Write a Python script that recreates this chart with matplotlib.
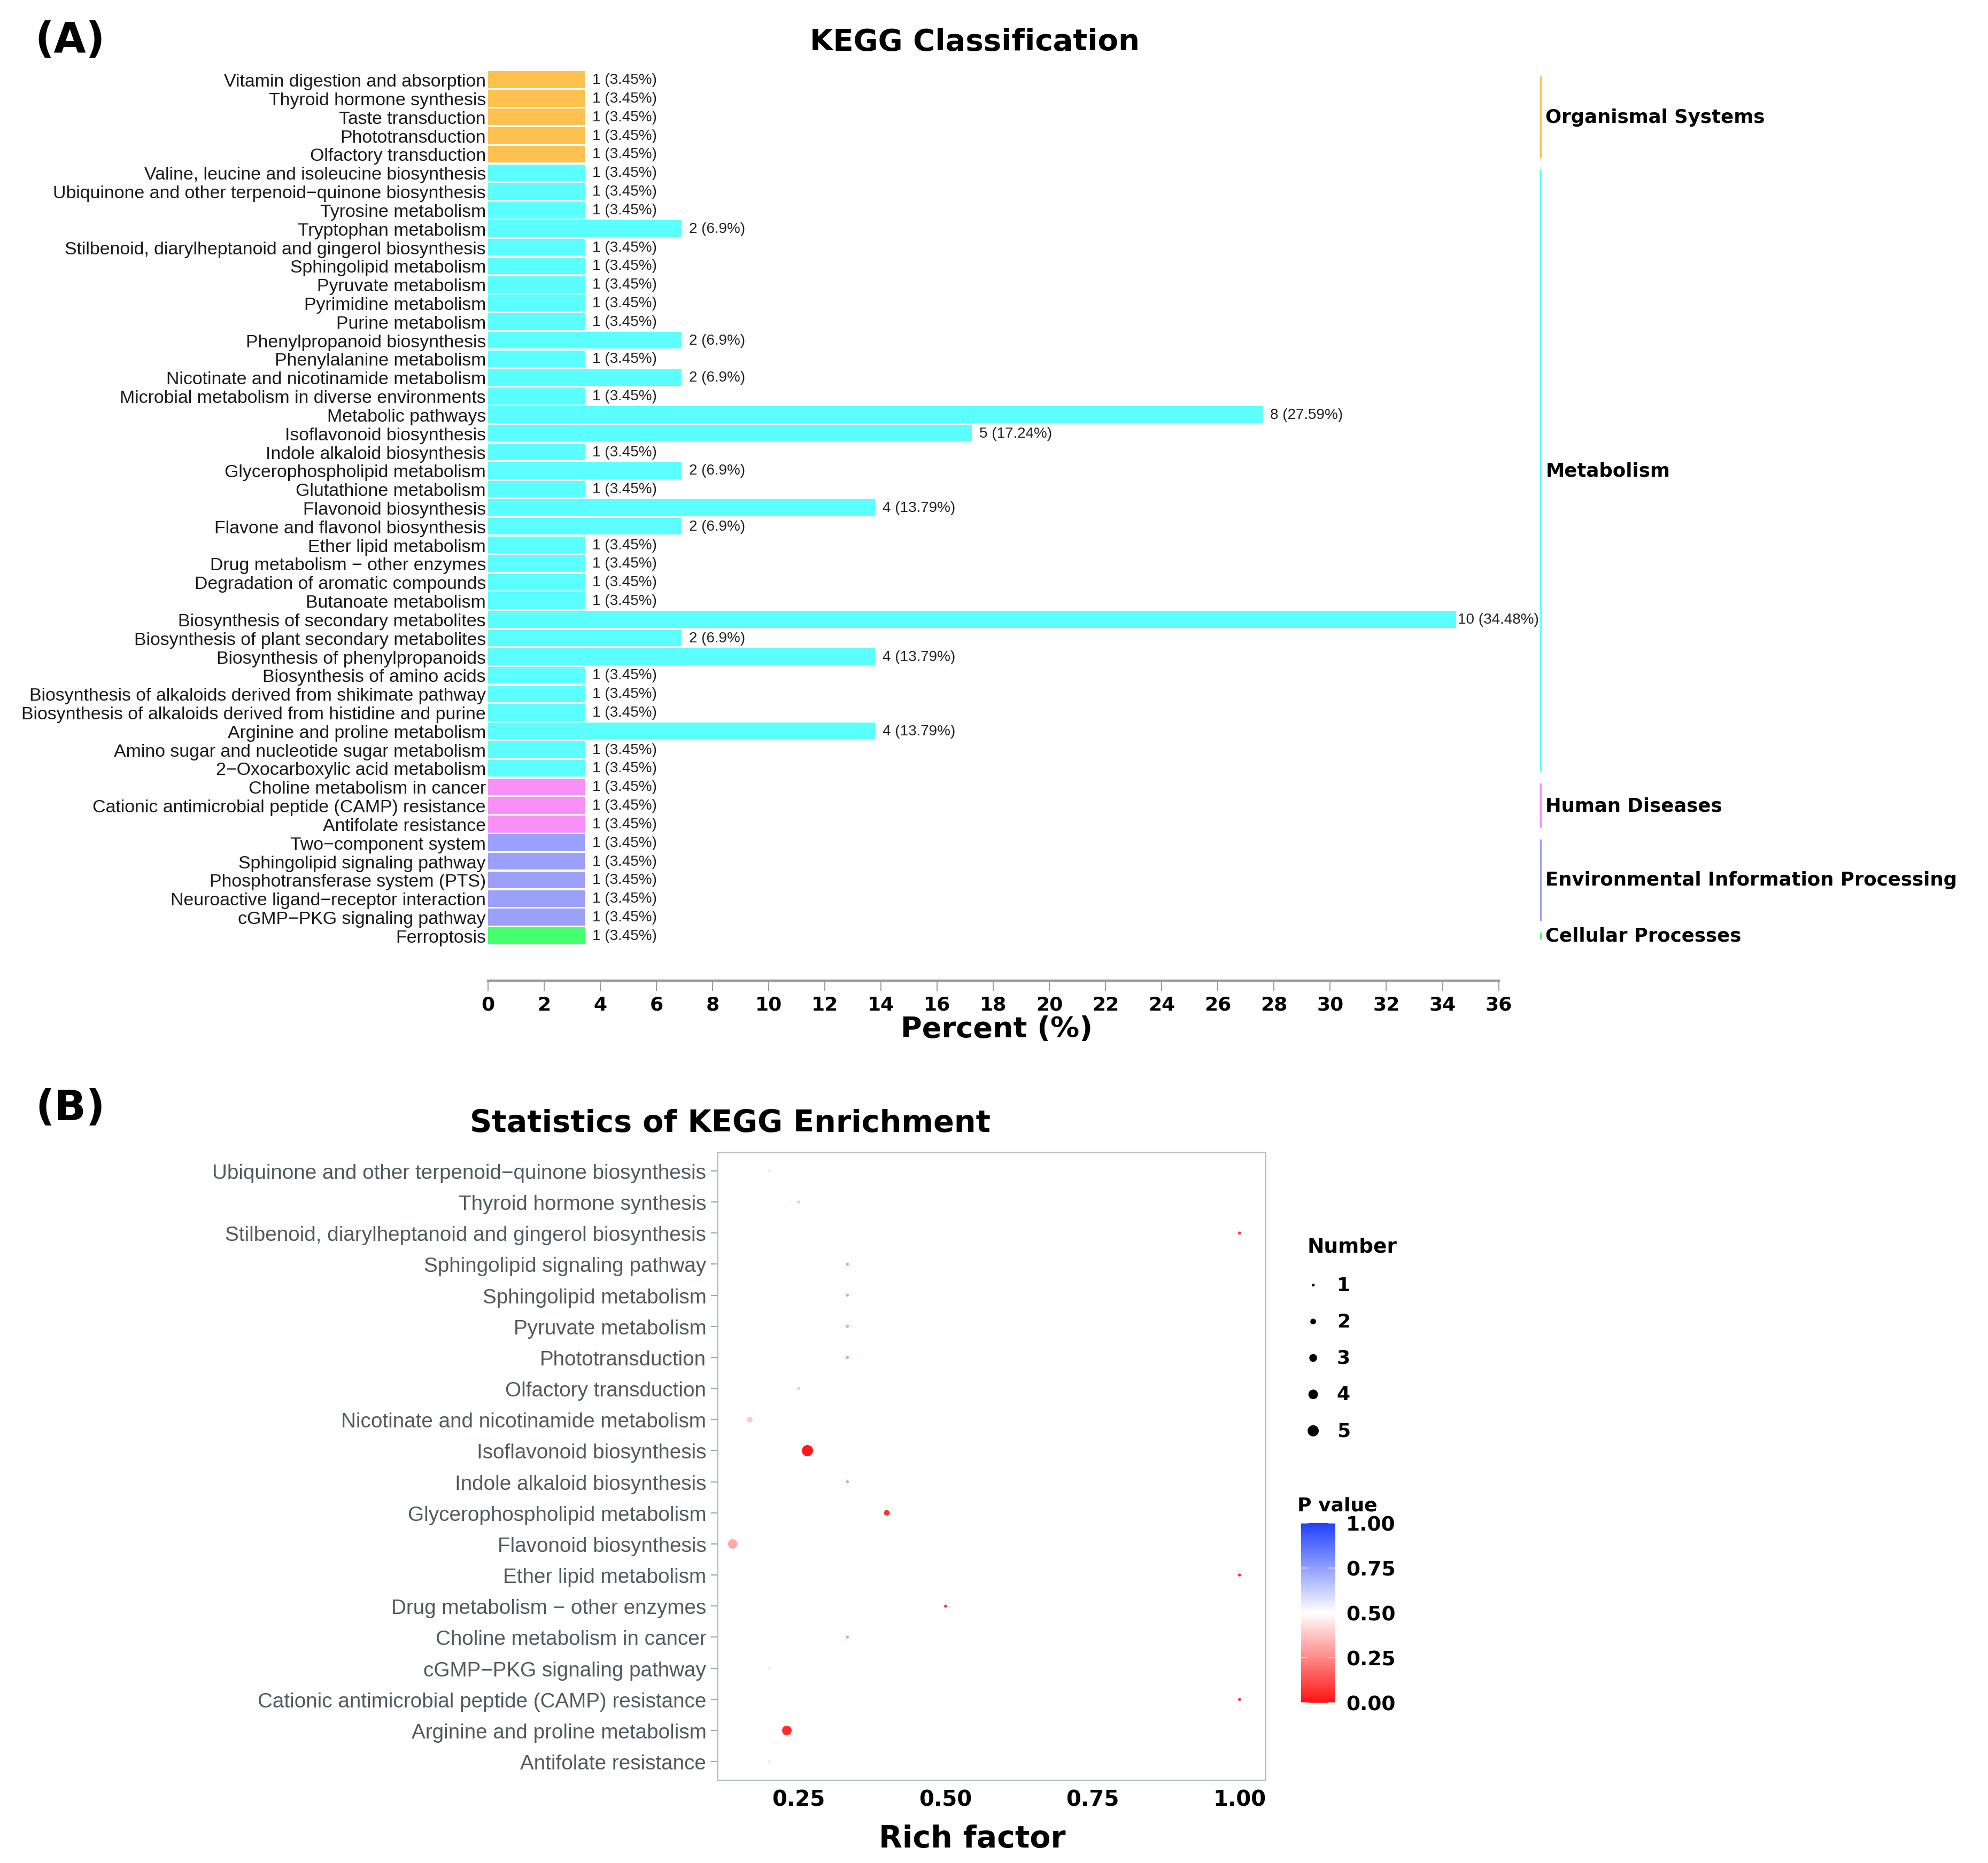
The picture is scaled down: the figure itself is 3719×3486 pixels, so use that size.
import numpy as np
import matplotlib
matplotlib.use('Agg')
import matplotlib.pyplot as plt
from matplotlib.colors import LinearSegmentedColormap, Normalize
from matplotlib.transforms import blended_transform_factory
from matplotlib.colorbar import ColorbarBase

plt.rcParams['font.family'] = ['Liberation Sans', 'DejaVu Sans']

# ---------------- (A) KEGG classification data ----------------
org_terms = ['Vitamin digestion and absorption', 'Thyroid hormone synthesis',
             'Taste transduction', 'Phototransduction', 'Olfactory transduction']
org_counts = [1, 1, 1, 1, 1]

met_terms = ['Valine, leucine and isoleucine biosynthesis',
             'Ubiquinone and other terpenoid\u2212quinone biosynthesis',
             'Tyrosine metabolism', 'Tryptophan metabolism',
             'Stilbenoid, diarylheptanoid and gingerol biosynthesis',
             'Sphingolipid metabolism', 'Pyruvate metabolism', 'Pyrimidine metabolism',
             'Purine metabolism', 'Phenylpropanoid biosynthesis', 'Phenylalanine metabolism',
             'Nicotinate and nicotinamide metabolism',
             'Microbial metabolism in diverse environments', 'Metabolic pathways',
             'Isoflavonoid biosynthesis', 'Indole alkaloid biosynthesis',
             'Glycerophospholipid metabolism', 'Glutathione metabolism',
             'Flavonoid biosynthesis', 'Flavone and flavonol biosynthesis',
             'Ether lipid metabolism', 'Drug metabolism \u2212 other enzymes',
             'Degradation of aromatic compounds', 'Butanoate metabolism',
             'Biosynthesis of secondary metabolites',
             'Biosynthesis of plant secondary metabolites',
             'Biosynthesis of phenylpropanoids', 'Biosynthesis of amino acids',
             'Biosynthesis of alkaloids derived from shikimate pathway',
             'Biosynthesis of alkaloids derived from histidine and purine',
             'Arginine and proline metabolism',
             'Amino sugar and nucleotide sugar metabolism',
             '2\u2212Oxocarboxylic acid metabolism']
met_counts = [1, 1, 1, 2, 1, 1, 1, 1, 1, 2, 1, 2, 1, 8, 5, 1, 2, 1, 4, 2,
              1, 1, 1, 1, 10, 2, 4, 1, 1, 1, 4, 1, 1]

hd_terms = ['Choline metabolism in cancer',
            'Cationic antimicrobial peptide (CAMP) resistance', 'Antifolate resistance']
hd_counts = [1, 1, 1]

env_terms = ['Two\u2212component system', 'Sphingolipid signaling pathway',
             'Phosphotransferase system (PTS)',
             'Neuroactive ligand\u2212receptor interaction', 'cGMP\u2212PKG signaling pathway']
env_counts = [1, 1, 1, 1, 1]

cp_terms = ['Ferroptosis']
cp_counts = [1]

total_genes = 29
group_names = ['Organismal Systems', 'Metabolism', 'Human Diseases',
               'Environmental Information Processing', 'Cellular Processes']
group_terms = [org_terms, met_terms, hd_terms, env_terms, cp_terms]
group_counts = [org_counts, met_counts, hd_counts, env_counts, cp_counts]
group_colors = ['#FDC150', '#5BFFFF', '#F890F8', '#9BA0FA', '#46FF6E']

# ---------------- (B) KEGG enrichment data ----------------
enr_terms = ['Ubiquinone and other terpenoid\u2212quinone biosynthesis',
             'Thyroid hormone synthesis',
             'Stilbenoid, diarylheptanoid and gingerol biosynthesis',
             'Sphingolipid signaling pathway', 'Sphingolipid metabolism',
             'Pyruvate metabolism', 'Phototransduction', 'Olfactory transduction',
             'Nicotinate and nicotinamide metabolism', 'Isoflavonoid biosynthesis',
             'Indole alkaloid biosynthesis', 'Glycerophospholipid metabolism',
             'Flavonoid biosynthesis', 'Ether lipid metabolism',
             'Drug metabolism \u2212 other enzymes', 'Choline metabolism in cancer',
             'cGMP\u2212PKG signaling pathway',
             'Cationic antimicrobial peptide (CAMP) resistance',
             'Arginine and proline metabolism', 'Antifolate resistance']
enr_rich = [0.20, 0.25, 1.00, 0.333, 0.333, 0.333, 0.333, 0.25, 0.167, 0.265,
            0.333, 0.40, 0.138, 1.00, 0.50, 0.333, 0.20, 1.00, 0.23, 0.20]
enr_number = [1, 1, 1, 1, 1, 1, 1, 1, 2, 5, 1, 2, 4, 1, 1, 1, 1, 1, 4, 1]
enr_pvalue = [0.44, 0.37, 0.05, 0.28, 0.28, 0.28, 0.28, 0.37, 0.38, 0.01,
              0.28, 0.06, 0.32, 0.05, 0.06, 0.28, 0.44, 0.05, 0.05, 0.44]
legend_numbers = [1, 2, 3, 4, 5]
pvalue_ticks = [0.00, 0.25, 0.50, 0.75, 1.00]

fig = plt.figure(figsize=(3719 / 200, 3487 / 200), dpi=200)
W, H = 1560.0, 1463.0  # layout grid measured on the reference


def box(x0, y0, x1, y1):
    return [x0 / W, 1 - y1 / H, (x1 - x0) / W, (y1 - y0) / H]


# ================= panel A =================
terms, counts, colors, spans = [], [], [], []
for name, t, c, col in zip(group_names, group_terms, group_counts, group_colors):
    spans.append((name, len(terms), len(terms) + len(t) - 1, col))
    terms += t
    counts += c
    colors += [col] * len(t)
counts = np.array(counts)
pct = counts / total_genes * 100
rows = np.arange(len(terms))

axA = fig.add_axes(box(383, 55.7, 1176, 742.3))
axA.barh(rows, pct, height=0.9, color=colors, linewidth=0)
axA.set_ylim(len(terms) - 0.5, -0.5)
axA.set_xlim(0, 36)
for r, n, p in zip(rows, counts, pct):
    gap = 1 if p > 34 else 5
    axA.annotate(f'{n} ({round(p, 2):g}%)', xy=(p, r), xytext=(gap, 0),
                 textcoords='offset points', ha='left', va='center',
                 fontsize=10, color='#222222')
axA.set_yticks(rows)
axA.set_yticklabels(terms, fontsize=12.2, color='#1a1a1a')
axA.tick_params(axis='y', length=0, pad=1.5)
for s in ['top', 'right', 'left']:
    axA.spines[s].set_visible(False)
axA.spines['bottom'].set_position(('outward', 24))
axA.spines['bottom'].set_color('#9a9a9a')
axA.spines['bottom'].set_linewidth(1.6)
axA.set_xticks(np.arange(0, 37, 2))
axA.tick_params(axis='x', length=7, width=0.7, color='#9a9a9a', pad=3)
for lab in axA.get_xticklabels():
    lab.set_fontfamily('DejaVu Sans')
    lab.set_fontweight('bold')
    lab.set_fontsize(13)

trans = blended_transform_factory(axA.transAxes, axA.transData)
for name, i0, i1, col in spans:
    axA.plot([1.0416, 1.0416], [i0 - 0.15, i1 + 0.15], color=col, lw=1.2,
             transform=trans, clip_on=False)
    axA.text(1.0465, (i0 + i1) / 2, name, transform=trans, ha='left', va='center',
             fontsize=12.8, fontweight='bold', fontfamily='DejaVu Sans')

fig.text(782 / W, 1 - 808 / H, 'Percent (%)', ha='center', va='center',
         fontsize=19.5, fontweight='bold', fontfamily='DejaVu Sans')
fig.text(765 / W, 1 - 33 / H, 'KEGG Classification', ha='center', va='center',
         fontsize=20.2, fontweight='bold', fontfamily='DejaVu Sans')
fig.text(55 / W, 1 - 32 / H, '(A)', ha='center', va='center',
         fontsize=28, fontweight='bold', fontfamily='DejaVu Sans')

# ================= panel B =================
cmap = LinearSegmentedColormap.from_list('pv', ['#FF1414', '#FFFFFF', '#2040FF'])
norm = Normalize(0, 1)


def dot_size(n):
    n = np.asarray(n, dtype=float)
    d = 2.0 + (7.5 - 2.0) * (np.sqrt(n) - 1) / (np.sqrt(5) - 1)
    return d ** 2


axB = fig.add_axes(box(563, 905, 993, 1398))
yb = np.arange(len(enr_terms))
axB.scatter(enr_rich, yb, s=dot_size(enr_number), c=enr_pvalue, cmap=cmap, norm=norm,
            linewidths=0, zorder=3)
axB.set_ylim(len(enr_terms) - 0.4, -0.6)
axB.set_xlim(0.112, 1.044)
axB.set_yticks(yb)
axB.set_yticklabels(enr_terms, fontsize=13.9, color='#505a5a')
axB.tick_params(axis='y', length=4.5, width=0.8, color='#a0a8a8', pad=3)
axB.set_xticks([0.25, 0.50, 0.75, 1.00])
axB.set_xticklabels(['0.25', '0.50', '0.75', '1.00'])
axB.tick_params(axis='x', length=0, pad=6)
for lab in axB.get_xticklabels():
    lab.set_fontfamily('DejaVu Sans')
    lab.set_fontweight('bold')
    lab.set_fontsize(14.5)
for s in axB.spines.values():
    s.set_color('#b4bebe')
    s.set_linewidth(0.9)

fig.text(763 / W, 1 - 1444 / H, 'Rich factor', ha='center', va='center',
         fontsize=20.5, fontweight='bold', fontfamily='DejaVu Sans')
fig.text(573 / W, 1 - 882 / H, 'Statistics of KEGG Enrichment', ha='center', va='center',
         fontsize=20.6, fontweight='bold', fontfamily='DejaVu Sans')
fig.text(55 / W, 1 - 870 / H, '(B)', ha='center', va='center',
         fontsize=28, fontweight='bold', fontfamily='DejaVu Sans')

# size legend
axL = fig.add_axes(box(1015, 995, 1100, 1138))
ly = np.arange(len(legend_numbers))
axL.scatter(np.zeros(len(ly)), ly, s=dot_size(legend_numbers), color='black', linewidths=0)
for y, n in zip(ly, legend_numbers):
    axL.text(1.2, y, str(n), ha='left', va='center', fontsize=13,
             fontweight='bold', fontfamily='DejaVu Sans')
axL.set_xlim(-1.0, 4.5)
axL.set_ylim(len(ly) - 0.5, -0.5)
axL.axis('off')
fig.text(1026 / W, 1 - 979 / H, 'Number', ha='left', va='center', fontsize=13.5,
         fontweight='bold', fontfamily='DejaVu Sans')

# p value colour bar
axC = fig.add_axes(box(1021, 1196, 1048, 1337))
cb = ColorbarBase(axC, cmap=cmap, norm=norm, orientation='vertical')
cb.outline.set_visible(False)
cb.set_ticks(pvalue_ticks)
cb.set_ticklabels([f'{v:.2f}' for v in pvalue_ticks])
axC.tick_params(length=0, pad=7)
for lab in axC.get_yticklabels():
    lab.set_fontfamily('DejaVu Sans')
    lab.set_fontweight('bold')
    lab.set_fontsize(13.5)
for v in pvalue_ticks:
    axC.plot([0, 0.2], [v, v], color='white', lw=0.6, alpha=0.7)
    axC.plot([0.8, 1], [v, v], color='white', lw=0.6, alpha=0.7)
fig.text(1018 / W, 1 - 1182 / H, 'P value', ha='left', va='center', fontsize=13,
         fontweight='bold', fontfamily='DejaVu Sans')

fig.savefig('out.png', dpi=200, facecolor='white')
